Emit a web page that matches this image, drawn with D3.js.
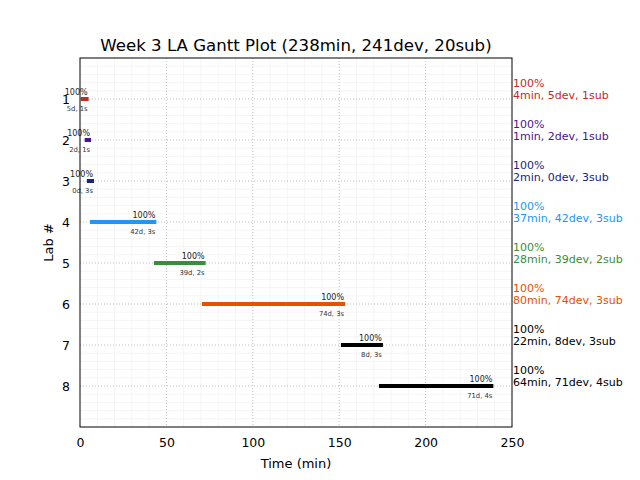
<!DOCTYPE html>
<html><head><meta charset="utf-8">
<script src="https://cdn.jsdelivr.net/npm/d3@7"></script>
<style>body{margin:0;background:#fff}svg{display:block;font-family:"DejaVu Sans",sans-serif}</style>
</head><body><svg id="c" width="640" height="480"></svg>
<script>
const labs = [1,2,3,4,5,6,7,8];
const starts = [0.5, 2.7, 4.0, 5.8, 42.8, 70.6, 151.0, 173.0];
const ends = [5.0, 6.4, 8.1, 44.2, 72.7, 153.4, 175.3, 239.2];
const pcts = ["100%","100%","100%","100%","100%","100%","100%","100%"];
const mins = [4,1,2,37,28,80,22,64];
const devs = [5,2,0,42,39,74,8,71];
const subs = [1,1,3,3,2,3,3,4];
const colors = ["#c62828","#4a148c","#1a237e","#2196f3","#388e3c","#e65100","#000000","#000000"];
const xTicks = [0,50,100,150,200,250];
const title = "Week 3 LA Gantt Plot (238min, 241dev, 20sub)";

const svg = d3.select("#c");
const L=80,R=512,T=58,B=427;
const x = d3.scaleLinear().domain([0,250]).range([L,R]);
const y = d3.scaleLinear().domain([0,9]).range([T,B]);

// minor grid
const g = svg.append("g");
g.selectAll(".mx").data(d3.range(0,251,10).filter(v=>v%50!==0)).enter().append("line")
  .attr("x1",d=>x(d)).attr("x2",d=>x(d)).attr("y1",T).attr("y2",B)
  .attr("stroke","#f3f3f3").attr("stroke-width",0.8);
g.selectAll(".my").data(d3.range(0,45).map(i=>i*0.2).filter(v=>Math.abs(v-Math.round(v))>1e-6)).enter().append("line")
  .attr("y1",d=>y(d)).attr("y2",d=>y(d)).attr("x1",L).attr("x2",R)
  .attr("stroke","#f3f3f3").attr("stroke-width",0.8);
// major grid
g.selectAll(".gx").data(xTicks.slice(1,-1)).enter().append("line")
  .attr("x1",d=>x(d)).attr("x2",d=>x(d)).attr("y1",T).attr("y2",B)
  .attr("stroke","#b0b0b0").attr("stroke-width",0.8).attr("stroke-dasharray","1,2");
g.selectAll(".gy").data(labs).enter().append("line")
  .attr("y1",d=>y(d)).attr("y2",d=>y(d)).attr("x1",L).attr("x2",R)
  .attr("stroke","#b0b0b0").attr("stroke-width",0.8).attr("stroke-dasharray","1,2");

// bars
svg.selectAll(".bar").data(labs).enter().append("rect")
  .attr("x",(d,i)=>x(starts[i])).attr("width",(d,i)=>x(ends[i])-x(starts[i]))
  .attr("y",d=>y(d)-2).attr("height",4).attr("fill",(d,i)=>colors[i]);

// small labels
svg.selectAll(".pl").data(labs).enter().append("text")
  .attr("x",(d,i)=>x(ends[i])-1).attr("y",d=>y(d)-4.5)
  .attr("text-anchor","end").attr("font-size",8).attr("fill","#222")
  .text((d,i)=>pcts[i]);
svg.selectAll(".ds").data(labs).enter().append("text")
  .attr("x",(d,i)=>x(ends[i])-1).attr("y",d=>y(d)+11.5)
  .attr("text-anchor","end").attr("font-size",6.8).attr("fill","#333")
  .text((d,i)=>`${devs[i]}d, ${subs[i]}s`);

// right labels
const rl = svg.selectAll(".rl").data(labs).enter().append("g");
rl.append("text").attr("x",R+1).attr("y",d=>y(d)-12.3).attr("font-size",11)
  .attr("fill",(d,i)=>colors[i]).text((d,i)=>pcts[i]);
rl.append("text").attr("x",R+1).attr("y",d=>y(d)).attr("font-size",11)
  .attr("fill",(d,i)=>colors[i]).text((d,i)=>`${mins[i]}min, ${devs[i]}dev, ${subs[i]}sub`);

// axes frame
svg.append("rect").attr("x",L).attr("y",T).attr("width",R-L).attr("height",B-T)
  .attr("fill","none").attr("stroke","#000").attr("stroke-width",1);

// tick labels
const xa = svg.append("g").attr("transform",`translate(0,${B})`)
  .call(d3.axisBottom(x).tickValues(xTicks).tickSize(0).tickPadding(11).tickFormat(d3.format("d")));
xa.select(".domain").remove();
xa.selectAll("text").attr("font-size",12.5).attr("font-family","DejaVu Sans").attr("fill","#000");
const ya = svg.append("g").attr("transform",`translate(${L},0)`)
  .call(d3.axisLeft(y).tickValues(labs).tickSize(0).tickPadding(10).tickFormat(d3.format("d")));
ya.select(".domain").remove();
ya.selectAll("text").attr("font-size",12.5).attr("font-family","DejaVu Sans").attr("fill","#000");

// titles
svg.append("text").attr("x",(L+R)/2).attr("y",51).attr("text-anchor","middle")
  .attr("font-size",16.6).text(title);
svg.append("text").attr("x",(L+R)/2).attr("y",468).attr("text-anchor","middle")
  .attr("font-size",13).text("Time (min)");
svg.append("text").attr("transform",`translate(53,${(T+B)/2}) rotate(-90)`).attr("text-anchor","middle")
  .attr("font-size",13).text("Lab #");
</script></body></html>
